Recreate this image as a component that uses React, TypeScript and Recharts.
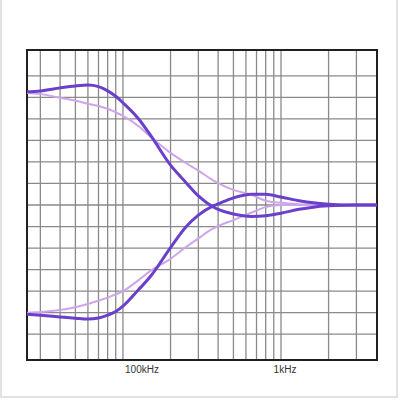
import React from 'react';
import { LineChart, Line, XAxis, YAxis, CartesianGrid, ReferenceArea } from 'recharts';

const freqs = [24.7, 30, 40, 50, 60, 70, 80, 90, 100, 125, 150, 200, 250, 300, 370, 400, 500, 650, 800, 1000, 1300, 1600, 2000, 3000, 4050];
const solidUpper = [5.26, 5.3, 5.44, 5.53, 5.57, 5.5, 5.3, 5.05, 4.75, 4.02, 3.22, 1.85, 1.05, 0.42, -0.08, -0.2, -0.42, -0.53, -0.5, -0.38, -0.2, -0.1, -0.04, 0, 0];
const solidLower = [-5.07, -5.12, -5.2, -5.26, -5.3, -5.25, -5.12, -4.95, -4.7, -3.95, -3.3, -1.98, -1.02, -0.47, -0.05, 0.05, 0.33, 0.5, 0.5, 0.37, 0.2, 0.1, 0.04, 0, 0];
const lightUpper = [5.2, 5.15, 4.98, 4.85, 4.7, 4.6, 4.47, 4.3, 4.14, 3.67, 3.16, 2.42, 1.95, 1.6, 1.16, 1.02, 0.7, 0.47, 0.2, 0.1, 0.04, 0.02, 0, 0, 0];
const lightLower = [-5.0, -4.97, -4.88, -4.75, -4.6, -4.45, -4.3, -4.15, -4.0, -3.5, -3.05, -2.5, -1.95, -1.55, -1.1, -0.98, -0.7, -0.35, -0.1, 0, 0, 0, 0, 0, 0];

const xDomain = [24.7, 4050];
const yDomain = [-7.2, 7.2];
const gridX = [30, 40, 50, 60, 70, 80, 90, 100, 200, 300, 400, 500, 600, 700, 800, 900, 1000, 2000, 3000];
const gridY = [-6, -5, -4, -3, -2, -1, 0, 1, 2, 3, 4, 5, 6];
const tickValues = [132, 1060];
const tickLabels = ['100kHz', '1kHz'];

const data = freqs.map((f, i) => ({
  f,
  a: solidUpper[i],
  b: solidLower[i],
  c: lightUpper[i],
  d: lightLower[i],
}));

const SOLID = '#6a3fcb';
const LIGHT = '#cda6ea';

export default function App() {
  return (
    <div
      style={{
        position: 'absolute',
        left: 0,
        top: 0,
        width: 398,
        height: 398,
        boxSizing: 'border-box',
        borderLeft: '2px solid #e2e2e2',
        borderRight: '2px solid #e2e2e2',
        borderBottom: '2px solid #e2e2e2',
        background: '#fff',
      }}
    >
      <LineChart
        width={394}
        height={396}
        data={data}
        margin={{ top: 50, right: 19, bottom: 6, left: 25 }}
      >
        <CartesianGrid
          stroke="#8a8a8a"
          strokeWidth={1.3}
          verticalValues={gridX}
          horizontalValues={gridY}
        />
        <XAxis
          dataKey="f"
          type="number"
          scale="log"
          domain={xDomain}
          allowDataOverflow
          height={30}
          ticks={tickValues}
          interval={0}
          tickFormatter={(v: number) => tickLabels[tickValues.indexOf(v)] ?? ''}
          axisLine={false}
          tickLine={false}
          tickSize={0}
          tickMargin={6}
          tick={{ fontSize: 10, fill: '#333', fontFamily: 'Liberation Sans, Arial, sans-serif' }}
        />
        <YAxis type="number" domain={yDomain} ticks={gridY} interval={0} hide allowDataOverflow />
        <Line type="monotone" dataKey="c" stroke={LIGHT} strokeWidth={2} dot={false} isAnimationActive={false} />
        <Line type="monotone" dataKey="d" stroke={LIGHT} strokeWidth={2} dot={false} isAnimationActive={false} />
        <Line type="monotone" dataKey="a" stroke={SOLID} strokeWidth={3} dot={false} isAnimationActive={false} />
        <Line type="monotone" dataKey="b" stroke={SOLID} strokeWidth={3} dot={false} isAnimationActive={false} />
        <ReferenceArea
          x1={xDomain[0]}
          x2={xDomain[1]}
          y1={yDomain[0]}
          y2={yDomain[1]}
          fill="none"
          stroke="#231f20"
          strokeWidth={2}
          ifOverflow="visible"
        />
      </LineChart>
    </div>
  );
}
